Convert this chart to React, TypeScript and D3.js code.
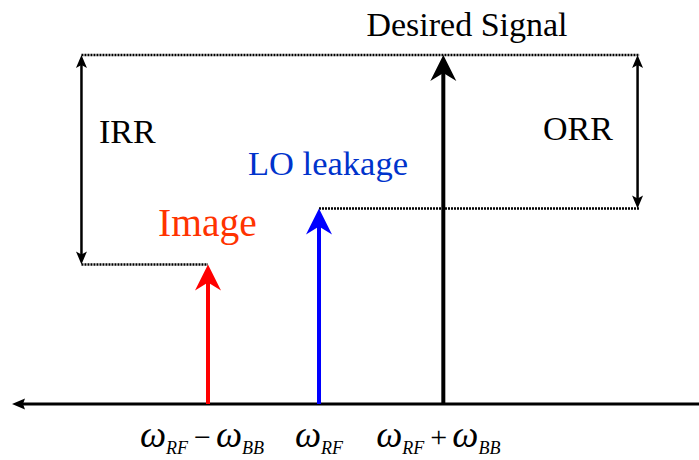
import { useMemo } from 'react';
import * as d3 from 'd3';

// Spectrum at the output of an up-converter: image, LO leakage and the wanted tone.
const TONE_NAMES = ['Image', 'LO leakage', 'Desired Signal'];
const TONE_FREQ = [-1, 0, 1.12]; // offsets from ω_RF, in ω_BB-ish units
const TONE_LEVEL_DB = [-30, -22, 0];

// Rejection ratios drawn as double arrows from the desired level down to a spur level.
const RATIO_NAMES = ['IRR', 'ORR'];
const RATIO_FREQ = [-2.14, 2.87];
const RATIO_LEVEL_DB = [-30, -22];

const FREQ_LABELS = [
  { base: 'RF', op: '−', sub2: 'BB' },
  { base: 'RF', op: '', sub2: '' },
  { base: 'RF', op: '+', sub2: 'BB' },
];

const WIDTH = 699;
const HEIGHT = 460;
const FONT = '"Liberation Serif", "Times New Roman", Times, serif';
const TONE_COLORS = ['#ff0000', '#0000ff', '#000000'];
const TEXT_COLORS = ['#ff3300', '#0033cc', '#000000'];

export default function App() {
  const x = useMemo(() => d3.scaleLinear().domain([0, 1]).range([319, 430]), []);
  const y = useMemo(() => d3.scaleLinear().domain([0, -50]).range([55, 404]), []);
  const floorY = y(-50);
  const topY = y(0);

  const toneHead = (cx: number, tip: number) =>
    `M${cx},${tip} L${cx - 13},${tip + 26} L${cx},${tip + 18} L${cx + 13},${tip + 26} Z`;
  const smallHead = (cx: number, tip: number, dir: 1 | -1) =>
    `M${cx},${tip} L${cx - 5.5},${tip + dir * 13} L${cx},${tip + dir * 10} L${cx + 5.5},${tip + dir * 13} Z`;

  const dotted = { stroke: '#000', strokeWidth: 2.5, strokeDasharray: '2 1', fill: 'none' };

  const xImage = x(TONE_FREQ[0]);
  const xLo = x(TONE_FREQ[1]);
  const xLeft = x(RATIO_FREQ[0]);
  const xRight = x(RATIO_FREQ[1]);

  return (
    <svg
      width={WIDTH}
      height={HEIGHT}
      style={{ position: 'absolute', left: 0, top: 0, background: '#fff' }}
      fontFamily={FONT}
    >
      {/* frequency axis, arrow pointing left */}
      <line x1={22} x2={WIDTH} y1={floorY} y2={floorY} stroke="#000" strokeWidth={3} />
      <path d={`M12,${floorY} L25,${floorY - 5.5} L23,${floorY} L25,${floorY + 5.5} Z`} fill="#000" />

      {/* dotted reference levels */}
      <path d={`M${xLeft},${topY} H${xRight + 2}`} {...dotted} />
      <path d={`M${xLo},${y(TONE_LEVEL_DB[1])} H${xRight + 2}`} {...dotted} />
      <path d={`M${xLeft},${y(TONE_LEVEL_DB[0])} H${xImage}`} {...dotted} />

      {/* tones */}
      {TONE_FREQ.map((f, i) => {
        const cx = x(f);
        const tip = y(TONE_LEVEL_DB[i]);
        return (
          <g key={TONE_NAMES[i]}>
            <line x1={cx} x2={cx} y1={floorY} y2={tip + 16} stroke={TONE_COLORS[i]} strokeWidth={4} />
            <path d={toneHead(cx, tip)} fill={TONE_COLORS[i]} />
          </g>
        );
      })}

      {/* rejection ratio double arrows */}
      {RATIO_FREQ.map((f, i) => {
        const cx = x(f);
        const bottom = y(RATIO_LEVEL_DB[i]);
        return (
          <g key={RATIO_NAMES[i]}>
            <line x1={cx} x2={cx} y1={topY + 9} y2={bottom - 9} stroke="#000" strokeWidth={2.5} />
            <path d={smallHead(cx, topY, 1)} fill="#000" />
            <path d={smallHead(cx, bottom, -1)} fill="#000" />
          </g>
        );
      })}

      {/* labels */}
      <text x={467} y={36} fontSize={34} textAnchor="middle" fill={TEXT_COLORS[2]}>
        {TONE_NAMES[2]}
      </text>
      <text x={248} y={175} fontSize={34.5} fill={TEXT_COLORS[1]}>
        {TONE_NAMES[1]}
      </text>
      <text x={158} y={236} fontSize={39.5} fill={TEXT_COLORS[0]}>
        {TONE_NAMES[0]}
      </text>
      <text x={99} y={143} fontSize={34} fill="#000">
        {RATIO_NAMES[0]}
      </text>
      <text x={543} y={140} fontSize={34} fill="#000">
        {RATIO_NAMES[1]}
      </text>

      {/* frequency labels */}
      {FREQ_LABELS.map((lab, i) => {
        const cx = x(TONE_FREQ[i]) - (i === 0 ? 6 : i === 2 ? 5 : 0);
        return (
          <text key={i} x={cx} y={447} fontSize={37} textAnchor="middle" fill="#000">
            <tspan fontStyle="italic">ω</tspan>
            <tspan fontStyle="italic" fontSize={18} dy={7}>
              {lab.base}
            </tspan>
            {lab.op && (
              <>
                <tspan fontSize={30} dy={-7} dx={6}>
                  {lab.op}
                </tspan>
                <tspan fontStyle="italic" dx={5}>
                  ω
                </tspan>
                <tspan fontStyle="italic" fontSize={18} dy={7}>
                  {lab.sub2}
                </tspan>
              </>
            )}
          </text>
        );
      })}
    </svg>
  );
}
